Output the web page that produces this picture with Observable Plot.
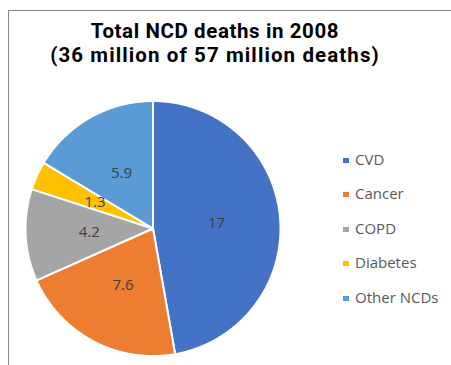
<!DOCTYPE html>
<html>
<head>
<meta charset="utf-8">
<script src="https://cdn.jsdelivr.net/npm/d3@7"></script>
<script src="https://cdn.jsdelivr.net/npm/@observablehq/plot@0.6"></script>
<style>
  html, body { margin: 0; padding: 0; background: #fff; }
  #wrap { position: relative; width: 451px; height: 365px; overflow: hidden; font-family: "Open Sans", sans-serif; }
  #frame { position: absolute; left: 8px; top: 10px; right: -5px; bottom: -5px; border-top: 1.5px solid #898989; border-left: 1.5px solid #898989; }
  .tl { position: absolute; left: 0; width: 430px; height: 24px; text-align: center; font-family: Roboto, sans-serif; font-weight: bold; font-size: 20.5px; line-height: 24px; color: #000; white-space: nowrap; }
  #t1 { top: 18.5px; letter-spacing: 0.6px; }
  #t2 { top: 43px; letter-spacing: 1.1px; }
  #chart { position: absolute; left: 0; top: 80px; }
  #legend { position: absolute; left: 343px; top: 149px; font-size: 15px; color: #595959; }
  .item { height: 34.4px; display: flex; align-items: flex-start; line-height: 20px; }
  .sw { width: 6px; height: 5px; margin-top: 9px; margin-right: 6px; }
</style>
</head>
<body>
<div id="wrap">
  <div id="frame"></div>
  <div class="tl" id="t1">Total NCD deaths in 2008</div>
  <div class="tl" id="t2">(36 million of 57 million deaths)</div>
  <div id="chart"></div>
  <div id="legend"></div>
</div>
<script>
const categories = ["CVD", "Cancer", "COPD", "Diabetes", "Other NCDs"];
const values = [17, 7.6, 4.2, 1.3, 5.9];
const colors = ["#4472C4", "#ED7D31", "#A5A5A5", "#FFC000", "#5B9BD5"];

const rows = categories.map((name, i) => ({name, value: values[i]}));
const arcs = d3.pie().sort(null).value(d => d.value)(rows);

// polygon points for each slice (angle 0 at 12 o'clock, clockwise)
const pts = [];
for (const a of arcs) {
  const name = a.data.name;
  pts.push({name, x: 0, y: 0});
  const n = Math.max(2, Math.ceil((a.endAngle - a.startAngle) / (Math.PI / 360)));
  for (let k = 0; k <= n; k++) {
    const t = a.startAngle + (a.endAngle - a.startAngle) * k / n;
    pts.push({name, x: Math.sin(t), y: Math.cos(t)});
  }
  pts.push({name, x: 0, y: 0});
}
const labels = arcs.map(a => {
  const m = (a.startAngle + a.endAngle) / 2;
  return {name: a.data.name, value: a.data.value, x: 0.5 * Math.sin(m), y: 0.5 * Math.cos(m)};
});

const cx = 152.5, r = 127.5, cy = 148, W = 451, H = 285;
const plot = Plot.plot({
  width: W,
  height: H,
  marginLeft: cx - r,
  marginRight: W - (cx + r),
  marginTop: cy - r,
  marginBottom: H - (cy + r),
  x: {domain: [-1, 1], axis: null},
  y: {domain: [-1, 1], axis: null},
  color: {domain: categories, range: colors},
  style: {background: "transparent", overflow: "visible"},
  marks: [
    Plot.line(pts, {x: "x", y: "y", z: "name", fill: "name", stroke: "white", strokeWidth: 2, strokeLinejoin: "miter"}),
    Plot.text(labels, {x: "x", y: "y", text: d => String(d.value), fill: "#404040", fontSize: 15, fontFamily: "Open Sans"})
  ]
});
document.getElementById("chart").appendChild(plot);

const leg = document.getElementById("legend");
categories.forEach((c, i) => {
  const it = document.createElement("div");
  it.className = "item";
  const sw = document.createElement("div");
  sw.className = "sw";
  sw.style.background = colors[i];
  const tx = document.createElement("span");
  tx.textContent = c;
  it.appendChild(sw); it.appendChild(tx);
  leg.appendChild(it);
});
</script>
</body>
</html>
